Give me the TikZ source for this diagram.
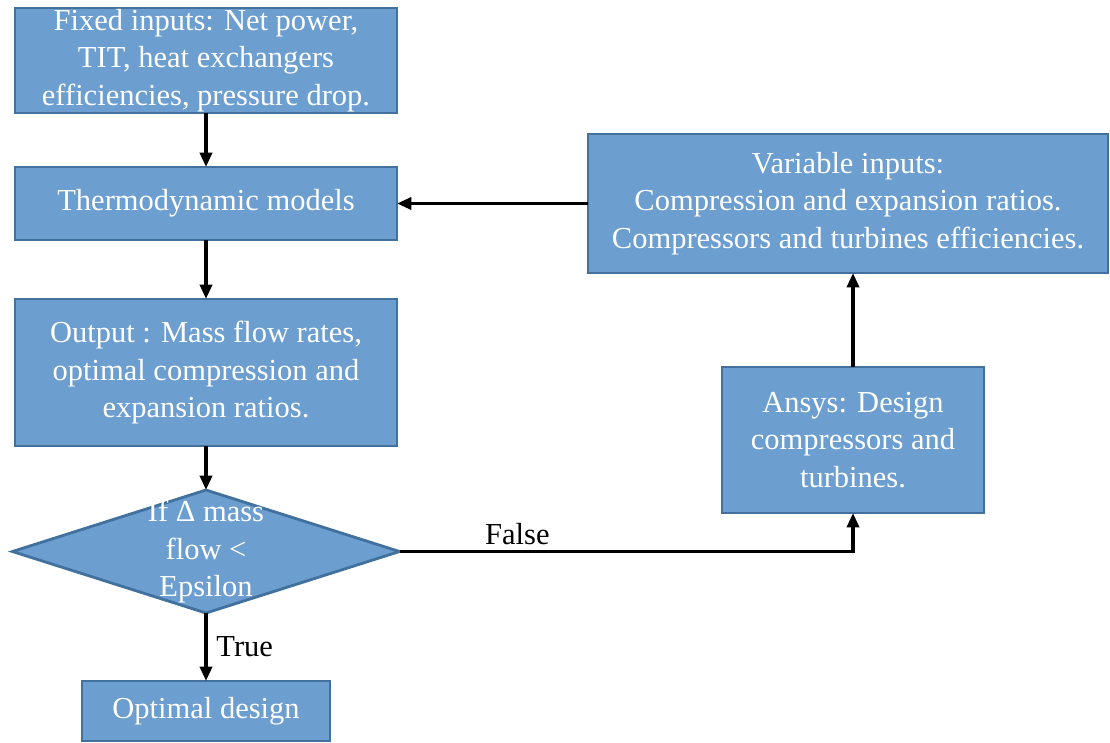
\documentclass[tikz,border=0pt]{standalone}
\usepackage{fontspec}
\setmainfont{Liberation Serif}
\usepackage{tikz}
\usetikzlibrary{arrows.meta,positioning,shapes.geometric}

\definecolor{boxblue}{RGB}{108,158,208}
\definecolor{boxedge}{RGB}{65,113,156}
\newcommand{\boxfont}{\fontsize{21.7pt}{26.6pt}\selectfont}

\begin{document}
\begin{tikzpicture}[->,>={Triangle[length=0.36cm,width=0.3cm]},line width=2.5pt,
  main node/.style={rectangle,fill=boxblue,draw=boxedge,line width=2pt,text=white,
    align=center,font=\boxfont,inner sep=0pt,outer sep=0pt,minimum width=9.55cm},
  test node/.style={diamond,fill=boxblue,draw=boxedge,line width=2pt,inner sep=0pt,
    outer sep=0pt,minimum width=9.675cm,minimum height=3.075cm},
  edge label/.style={font=\boxfont,text=black}]

  \useasboundingbox (0,0) rectangle (27.75,-18.55);

  \node[main node,minimum height=2.625cm] (fixed) at (5.15,-1.5125)
    {Fixed inputs: Net power,\\TIT, heat exchangers\\efficiencies, pressure drop.};
  \node[main node,minimum height=1.825cm] (thermo) [below=1.35cm of fixed]
    {Thermodynamic models};
  \node[main node,minimum height=3.675cm] (output) [below=1.475cm of thermo]
    {Output : Mass flow rates,\\optimal compression and\\expansion ratios.};
  \node[test node] (check) [below=1.1cm of output]
    {};
  \node[font=\boxfont,text=white,align=center] (checktext) at (check)
    {If Δ mass\\flow <\\Epsilon};
  \node[main node,minimum width=6.2cm,minimum height=1.5cm] (optimal) [below=1.7cm of check]
    {Optimal design};

  \node[main node,minimum width=13cm,minimum height=3.475cm] (variable) [right=4.775cm of thermo]
    {Variable inputs:\\Compression and expansion ratios.\\Compressors and turbines efficiencies.};
  \node[main node,minimum width=6.55cm,minimum height=3.65cm] (ansys)
    [below=2.35cm of variable,xshift=0.125cm]
    {Ansys: Design\\compressors and\\turbines.};

  \draw (fixed) -- (thermo);
  \draw (thermo) -- (output);
  \draw (output) -- (check);
  \draw (check) -- node[edge label,right,xshift=0.1cm] {True} (optimal);
  \draw (check.east) -| node[edge label,above,pos=0.13] {False} (ansys.south);
  \draw (ansys) -- (ansys.north |- variable.south);
  \draw (variable.west) -- (thermo.east);

\end{tikzpicture}
\end{document}
